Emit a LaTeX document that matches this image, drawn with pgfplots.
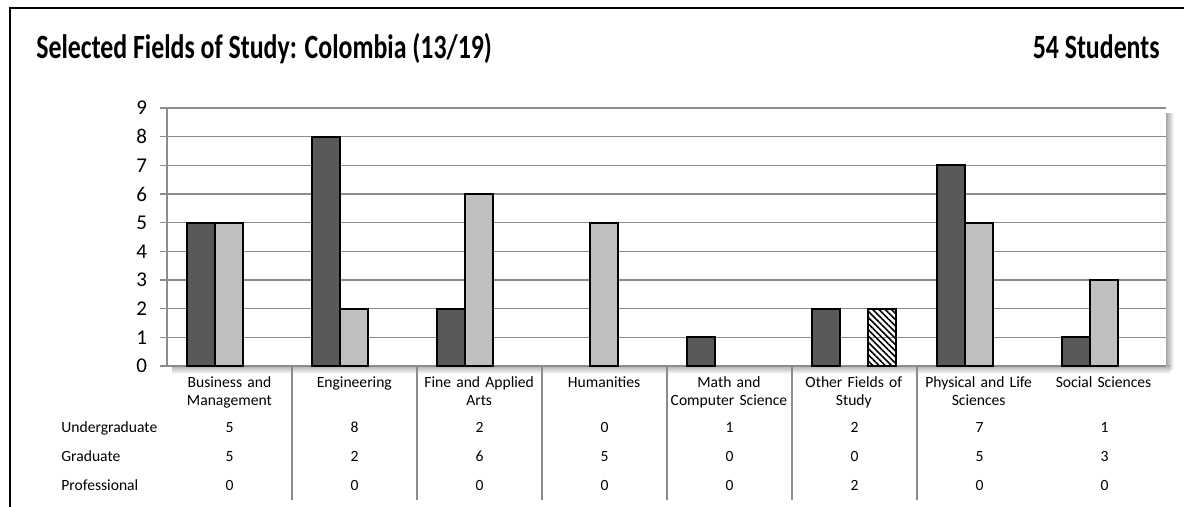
\documentclass[border=0pt]{standalone}
\usepackage{fontspec}
\setmainfont{Carlito}
\newfontfamily\titlefont[FakeStretch=0.76]{Carlito}
\usepackage{pgfplots}
\usepackage{pgfplotstable}
\pgfplotsset{compat=1.18}
\usetikzlibrary{patterns,patterns.meta}

\definecolor{darkbar}{HTML}{595959}
\definecolor{lightbar}{HTML}{BFBFBF}
\definecolor{gridgray}{HTML}{8C8C8C}

% field, undergraduate, graduate, professional
\pgfplotstableread{
x U G P
0 5 5 0
1 8 2 0
2 2 6 0
3 0 5 0
4 1 0 0
5 2 0 2
6 7 5 0
7 1 3 0
}\studydata

\begin{document}
\begin{tikzpicture}
% pixel grid of the reference: 1 px = 0.5pt, y counted downwards
\begin{scope}[x=0.5pt,y=-0.5pt,yshift=253.5pt]
\useasboundingbox (0,0) rectangle (1184,507);
\draw[line width=1pt] (10,507) -- (10,8) -- (1184,8);
\node[anchor=base west,inner sep=0pt,font=\titlefont\fontsize{17}{19}\selectfont\bfseries] at (36,59)
  {Selected Fields of Study: Colombia (13/19)};
\node[anchor=base east,inner sep=0pt,font=\titlefont\fontsize{17}{19}\selectfont\bfseries] at (1160,59)
  {54 Students};
% plot area shadow
\shade[left color=black!35,right color=white] (1166,114) rectangle (1174,370);
\shade[top color=black!30,bottom color=white] (172,366) rectangle (1170,374);
\end{scope}

\begin{axis}[
  at={(83.5pt,70.5pt)}, anchor=south west,
  scale only axis, width=499.5pt, height=129pt,
  ybar=0pt,
  bar width=0.224,
  xmin=-0.5, xmax=7.5,
  ymin=0, ymax=9,
  ytick={0,...,9},
  xtick={0,...,7},
  xticklabels={{Business and\\Management},{Engineering},{Fine and Applied\\Arts},{Humanities},{Math and\\Computer Science},{Other Fields of\\Study},{Physical and Life\\Sciences},{Social Sciences}},
  x tick label style={font=\fontsize{7.8}{8.6}\selectfont,align=center,text width=61pt,yshift=1.5pt},
  y tick label style={font=\fontsize{10.5}{12}\selectfont,xshift=-3pt},
  /pgf/number format/assume math mode=true,
  major x tick style={draw=none},
  major y tick style={gridgray,line width=0.75pt},
  tick align=outside,
  major tick length=3.5pt,
  axis x line*=bottom,
  axis y line*=left,
  axis line style={gridgray,line width=0.75pt,-},
  ymajorgrids,
  grid style={gridgray,line width=0.75pt},
  axis background/.style={fill=white},
  y filter/.expression={y==0 ? nan : y},
  clip=false,
]
\addplot[fill=darkbar,draw=black,line width=1pt,bar shift=-0.224] table[x=x,y=U]{\studydata};
\addplot[fill=lightbar,draw=black,line width=1pt,bar shift=0] table[x=x,y=G]{\studydata};
\addplot[pattern={Lines[angle=-45,distance=2.2pt,line width=0.8pt]},draw=black,line width=1pt,bar shift=0.224] table[x=x,y=P]{\studydata};
\end{axis}

% data table under the axis
\begin{scope}[x=0.5pt,y=-0.5pt,yshift=253.5pt]
\foreach \xx in {292,417,...,1041} {
  \draw[gridgray,line width=0.75pt] (\xx,367) -- (\xx,500);
}
\begin{scope}[every node/.style={font=\fontsize{7.8}{9}\selectfont,inner sep=0pt}]
\node[anchor=base west] at (61,433) {Undergraduate};
\node[anchor=base west] at (61,462) {Graduate};
\node[anchor=base west] at (61,491) {Professional};
\foreach \i in {0,...,7} {
  \pgfmathsetmacro{\cx}{229.5+125*\i}
  \pgfplotstablegetelem{\i}{U}\of\studydata
  \node[anchor=base] at (\cx,433) {\pgfplotsretval};
  \pgfplotstablegetelem{\i}{G}\of\studydata
  \node[anchor=base] at (\cx,462) {\pgfplotsretval};
  \pgfplotstablegetelem{\i}{P}\of\studydata
  \node[anchor=base] at (\cx,491) {\pgfplotsretval};
}
\end{scope}
\end{scope}
\end{tikzpicture}
\end{document}
